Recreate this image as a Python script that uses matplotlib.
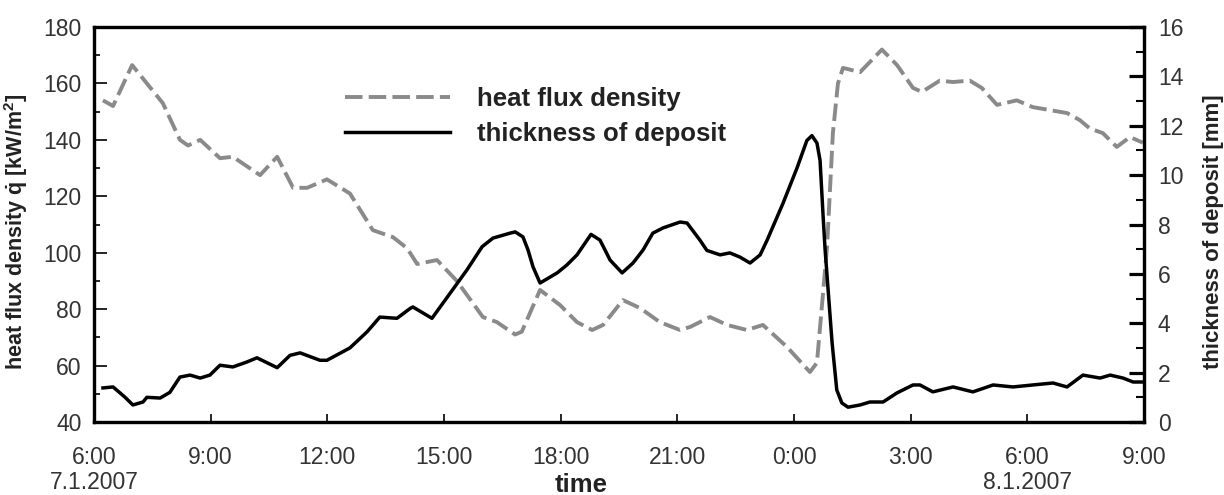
import numpy as np
import matplotlib
matplotlib.use("Agg")
import matplotlib.pyplot as plt
from matplotlib.ticker import MultipleLocator

plt.rcParams['font.family'] = ['Liberation Sans', 'DejaVu Sans']
plt.rcParams['mathtext.fontset'] = 'custom'
plt.rcParams['mathtext.bf'] = 'Liberation Sans:bold'
plt.rcParams['mathtext.rm'] = 'Liberation Sans'

# hours after 6:00 on 7.1.2007
q_time = [0.23, 0.49, 0.98, 1.36, 1.77, 2.21, 2.42, 2.73, 3.24, 3.57, 4.27, 4.71,
          5.12, 5.48, 5.99, 6.58, 7.17, 7.69, 8.05, 8.31, 8.82, 9.33, 10.0, 10.36,
          10.83, 11.0, 11.47, 11.98, 12.42, 12.81, 13.09, 13.6, 14.04, 14.55, 15.07,
          15.33, 15.84, 16.28, 16.79, 17.2, 17.82, 18.41, 18.59, 18.85, 19.0, 19.13,
          19.26, 19.7, 20.26, 20.65, 21.06, 21.29, 21.75, 22.09, 22.52, 22.83, 23.22,
          23.73, 24.14, 25.02, 25.35, 25.61, 25.94, 26.3, 26.64, 26.97]
heat_flux = [154, 152, 166.5, 160, 153, 140, 138, 140, 133.5, 134, 127.5, 134,
             123, 123, 126, 121, 108, 105.5, 101.6, 96, 97.4, 90, 77.2, 75.4,
             71, 72, 86.8, 81.5, 75.4, 72.6, 74.4, 83.2, 80.4, 75.4, 72.6,
             73.7, 77.2, 74.4, 72.6, 74.4, 66.6, 57.7, 61, 102, 142.4, 160,
             165.5, 164, 172, 166.5, 158.4, 157, 161, 160.5, 161, 158.4, 152.4,
             154, 151.6, 149.5, 147, 144, 142.4, 137.5, 141, 139]

d_time = [0.23, 0.49, 0.8, 1.0, 1.26, 1.36, 1.7, 1.95, 2.21, 2.47, 2.73, 2.98,
          3.24, 3.57, 3.93, 4.19, 4.45, 4.71, 5.04, 5.3, 5.81, 5.99, 6.58, 7.02,
          7.35, 7.79, 8.13, 8.2, 8.69, 9.15, 9.59, 9.98, 10.26, 10.7, 10.83, 11.03,
          11.16, 11.29, 11.47, 11.91, 12.16, 12.42, 12.78, 13.01, 13.14, 13.27,
          13.58, 13.86, 14.12, 14.37, 14.63, 15.07, 15.25, 15.58, 15.76, 16.1,
          16.35, 16.61, 16.87, 17.13, 17.31, 17.72, 18.08, 18.33, 18.46, 18.59,
          18.67, 18.75, 18.8, 18.98, 19.1, 19.23, 19.39, 19.7, 19.95, 20.29, 20.65,
          21.06, 21.24, 21.57, 22.09, 22.6, 23.12, 23.63, 24.14, 24.66, 25.02,
          25.43, 25.87, 26.13, 26.46, 26.72, 26.97]
thickness = [1.38, 1.42, 1.0, 0.69, 0.81, 1.0, 0.97, 1.2, 1.82, 1.9, 1.78, 1.9,
             2.3, 2.23, 2.43, 2.6, 2.4, 2.2, 2.7, 2.8, 2.5, 2.5, 3.0, 3.65,
             4.25, 4.2, 4.6, 4.66, 4.2, 5.2, 6.16, 7.1, 7.45, 7.65, 7.7, 7.5,
             6.97, 6.28, 5.63, 6.04, 6.36, 6.77, 7.6, 7.37, 6.97, 6.56,
             6.04, 6.44, 6.97, 7.65, 7.86, 8.1, 8.06, 7.37, 6.95, 6.77,
             6.85, 6.68, 6.44, 6.77, 7.37, 8.87, 10.3, 11.4, 11.6, 11.3,
             10.6, 8.3, 6.97, 3.2, 1.3, 0.77, 0.6, 0.69, 0.81, 0.81, 1.18,
             1.5, 1.5, 1.22, 1.42, 1.22, 1.5, 1.42, 1.5, 1.58, 1.42,
             1.9, 1.78, 1.9, 1.78, 1.62, 1.62]

tick_hours = [0, 3, 6, 9, 12, 15, 18, 21, 24, 27]
tick_labels = ["6:00\n7.1.2007", "9:00", "12:00", "15:00", "18:00", "21:00",
               "0:00", "3:00", "6:00\n8.1.2007", "9:00"]

fig = plt.figure(figsize=(12.24, 4.95), dpi=100)
ax = fig.add_axes([94/1224, 1-422/495, 1050/1224, 395/495])
ax2 = ax.twinx()

l1, = ax.plot(q_time, heat_flux, color='#8a8a8a', lw=2.8, dashes=(4.5, 1.6),
              label='heat flux density')
l2, = ax2.plot(d_time, thickness, color='black', lw=2.5,
               label='thickness of deposit')

ax.set_xlim(0, 27)
ax.set_ylim(40, 180)
ax2.set_ylim(0, 16)

ax.set_xticks(tick_hours)
ax.set_xticklabels(tick_labels, linespacing=1.15)
ax.yaxis.set_major_locator(MultipleLocator(20))
ax.yaxis.set_minor_locator(MultipleLocator(10))
ax2.yaxis.set_major_locator(MultipleLocator(2))
ax2.yaxis.set_minor_locator(MultipleLocator(1))

for sp in ax.spines.values():
    sp.set_linewidth(2.3)
for sp in ax2.spines.values():
    sp.set_linewidth(2.3)

ax.tick_params(axis='x', direction='in', length=6, width=1.2, pad=17,
               labelsize=16.5, labelcolor='#333333')
ax.tick_params(axis='y', which='major', direction='in', length=9, width=1.2,
               pad=9, labelsize=16.5, labelcolor='#333333')
ax.tick_params(axis='y', which='minor', direction='in', length=4, width=1.2)
ax2.tick_params(axis='y', which='major', direction='in', length=11, width=2.3,
                pad=10, labelsize=16.5, labelcolor='#333333')
ax2.tick_params(axis='y', which='minor', direction='in', length=6, width=1.5)

ax.set_ylabel(r"heat flux density $\mathbf{\dot{q}}$ [kW/m$\mathbf{^2}$]",
              fontsize=15.5, fontweight='bold', color='#222222')
ax.yaxis.set_label_coords(-0.061, 0.481)
ax2.set_ylabel("thickness of deposit [mm]", fontsize=16, fontweight='bold',
               color='#222222')
ax2.yaxis.set_label_coords(1.0562, 0.481)
ax.set_xlabel("time", fontsize=18.5, fontweight='bold', color='#222222')
ax.xaxis.set_label_coords(0.464, -0.128)

ax.legend(handles=[l1, l2], loc='center left', bbox_to_anchor=(0.239, 0.773),
          frameon=False, borderpad=0, borderaxespad=0, handlelength=4.1,
          handletextpad=1.05, labelspacing=0.42,
          prop={'weight': 'bold', 'size': 18.5}, labelcolor='#222222')

fig.savefig("out.png", dpi=100)
